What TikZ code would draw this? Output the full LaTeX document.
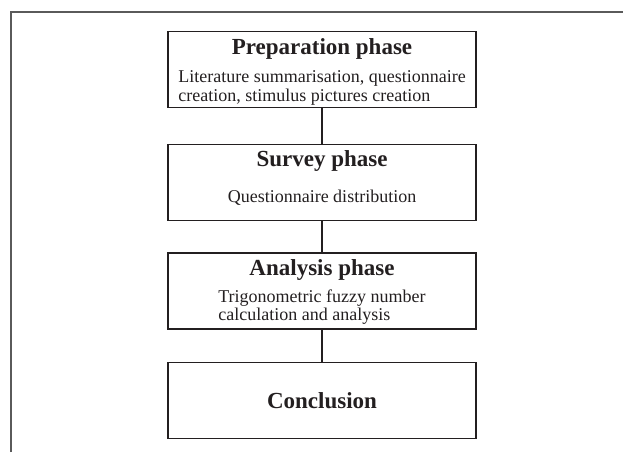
\documentclass[tikz,border=0pt]{standalone}
\usepackage{fontspec}
\setmainfont{Liberation Serif}
\usepackage{tikz}
\usetikzlibrary{positioning}
\usepackage{xcolor}
\definecolor{inkdark}{HTML}{231F20}
\definecolor{framegray}{HTML}{5A5A5A}

\begin{document}
\begin{tikzpicture}[x=1pt,y=1pt,
    phasebox/.style={draw=inkdark,line width=1.8pt,minimum width=308pt,minimum height=76pt,inner sep=0pt},
    phasetitle/.style={font=\fontsize{23}{27}\selectfont\bfseries,text=inkdark,anchor=base,inner sep=0pt},
    phasetext/.style={font=\fontsize{18}{18.6}\selectfont,text=inkdark,align=left,inner sep=0pt},
    link/.style={draw=inkdark,line width=1.5pt}]
            \useasboundingbox (0,0) rectangle (623,452);
            % Outer frame (top and left edges only)
            \draw[framegray,line width=1.6pt] (11,0) -- (11,440) -- (623,440);

            % Phase boxes
            \node[phasebox] (prep) at (322,382.5) {};
            \node[phasebox] (survey) at (322,269.5) {};
            \node[phasebox] (analysis) at (322,161) {};
            \node[phasebox,font=\fontsize{23}{27}\selectfont\bfseries,text=inkdark] (concl) at (322,51.5) {Conclusion};

            % Box texts
            \node[phasetitle] (preptitle) at (322,397) {Preparation phase};
            \node[phasetext] (prepdetail) at (322,364) {Literature summarisation, questionnaire\\creation, stimulus pictures creation};
            \node[phasetitle] (surveytitle) at (322,285.3) {Survey phase};
            \node[phasetext,anchor=base] (surveydetail) at (322,249) {Questionnaire distribution};
            \node[phasetitle] (analysistitle) at (322,176.4) {Analysis phase};
            \node[phasetext] (analysisdetail) at (322,144.7) {Trigonometric fuzzy number\\calculation and analysis};

            % Connectors
            \draw[link] (prep) -- (survey);
            \draw[link] (survey) -- (analysis);
            \draw[link] (analysis) -- (concl);
        \end{tikzpicture}
\end{document}
